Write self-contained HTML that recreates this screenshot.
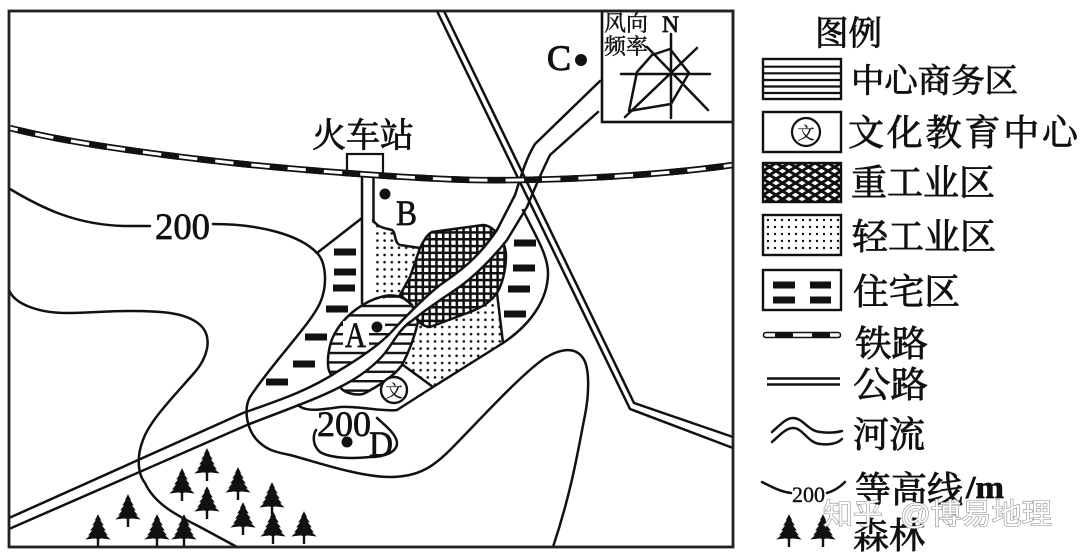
<!DOCTYPE html>
<html><head><meta charset="utf-8">
<style>
html,body{margin:0;padding:0;background:#fff}
svg{display:block}
text{font-family:"Liberation Serif","Noto Serif CJK SC",serif;fill:#111;stroke:#111;stroke-width:.7}
.c{stroke-width:.85}
.l{fill:none;stroke:#111;stroke-width:2.5;stroke-linejoin:round;stroke-linecap:round}
</style></head><body>
<svg width="1080" height="558" viewBox="0 0 1080 558" xmlns="http://www.w3.org/2000/svg">
<defs>
<pattern id="hz" patternUnits="userSpaceOnUse" width="10" height="9.4" y="4"><rect width="10" height="2.4" fill="#111"/></pattern>
<pattern id="gr" patternUnits="userSpaceOnUse" width="6.8" height="6.8"><rect width="6.800" height="2.5" fill="#111"/><rect width="2.500" height="6.8" fill="#111"/></pattern>
<pattern id="dt" patternUnits="userSpaceOnUse" width="7.2" height="7.2"><circle cx="3" cy="3" r="1.3" fill="#111"/></pattern>
<pattern id="ld" patternUnits="userSpaceOnUse" width="7" height="7" x="765" y="217"><circle cx="3" cy="3" r="1.2" fill="#111"/></pattern>
<pattern id="dm" patternUnits="userSpaceOnUse" width="13" height="8" x="763" y="163"><path d="M0,0L13,8M13,0L0,8" stroke="#111" stroke-width="3" fill="none"/></pattern>
<g id="t"><polygon fill="#111" stroke="#111" stroke-width=".8" points="0,0 2.5,5 1.5,5 5,10 3,10 7,15 5,15 9,20 7,20 11.5,24 3,23 0,24 -3,23 -11.5,24 -7,20 -9,20 -5,15 -7,15 -3,10 -5,10 -1.5,5 -2.5,5"/><rect x="-1.2" y="22" width="2.4" height="10" fill="#111"/></g>
</defs>
<rect width="1080" height="558" fill="#fff"/>

<!-- zone fills -->
<path d="M373,220C378,228 385,228 392,230C396,232 394,243 400,245L420,248L410,277L400,295L393,295L373,303Z" fill="url(#dt)"/>
<path d="M418,322L408,357L403,365L433,387L503,343L497,293L470,312L430,327Z" fill="url(#dt)"/>
<path d="M420,248C425,238 428,234 432,232L483,225C492,225 505,238 506,255C506,270 502,285 497,293C490,302 483,307 470,312L430,327C422,326 418,322 417,317L412,305L400,295L410,277Z" fill="url(#gr)" stroke="#111" stroke-width="2.5"/>
<path d="M412,305C405,297 395,294 385,296C365,300 345,315 335,333C328,345 326,365 330,373L340,387C345,394 360,397 367,392C380,385 395,375 402,365C410,350 415,335 418,322Z" fill="url(#hz)" stroke="#111" stroke-width="2.5"/>
<rect x="343" y="321" width="26" height="29" fill="#fff"/>
<rect x="369" y="319" width="16" height="14" fill="#fff"/>

<!-- river -->
<path d="M9,518L243,413C280,400 310,390 340,370C365,355 385,340 395,328C410,312 425,297 440,285C465,268 480,255 497,230L515,195C520,180 525,160 535,144L600,81L598,112L550,155C540,175 532,195 527,207L507,240C495,255 475,277 455,290C440,300 425,310 413,320C400,328 395,340 385,353C375,365 360,377 340,387C315,400 280,412 247,425L9,529Z" fill="#fff"/>
<path class="l" d="M9,518L243,413C280,400 310,390 340,370C365,355 385,340 395,328C410,312 425,297 440,285C465,268 480,255 497,230L515,195C520,180 525,160 535,144L600,81"/>
<path class="l" d="M9,529L247,425C280,412 315,400 340,387C360,377 375,365 385,353C395,340 400,328 413,320C425,310 440,300 455,290C475,277 495,255 507,240L527,207C532,195 540,175 550,155L598,112"/>

<!-- contours and zone edges -->
<path class="l" d="M10,189C40,207 75,225 125,226L150,226"/>
<path class="l" d="M213,224C260,224 300,235 317,253C326,262 328,285 320,303C310,325 273,362 250,397C243,410 247,432 260,443C268,450 275,452 290,455C320,463 360,477 390,477C420,477 435,465 450,450C475,425 520,375 545,358C560,349 575,346 583,358C590,368 589,395 585,415C578,450 572,490 553,547"/>
<path class="l" d="M9,290C15,305 40,313 67,313C90,313 105,311 130,311C160,311 190,312 203,328C212,340 207,358 195,372C175,395 150,420 143,440C137,455 137,473 145,483C155,505 180,517 200,527L237,547"/>
<path class="l" d="M317,253L362,218"/>
<path class="l" d="M523,210C535,235 548,255 548,273C548,300 530,325 503,343L433,387L397,410C385,412 360,406 340,407C320,410 305,412 298,405"/>
<path class="l" d="M373,220C378,228 385,228 392,230C396,232 394,243 400,245L420,248"/>
<path class="l" d="M497,293L503,343M403,365L433,387"/>
<path class="l" d="M377,418C385,425 397,435 397,443C397,452 385,457 370,457C350,459 330,458 320,452C312,445 313,435 316,430"/>

<!-- roads -->
<path class="l" d="M437,11L630,409L733,448"/>
<path class="l" d="M444,11L634,403L733,437"/>
<path class="l" d="M362,178V303M373.500,178V222"/>

<!-- station -->
<rect x="347" y="154" width="36" height="21" fill="#fff" stroke="#111" stroke-width="2.2"/>

<!-- railway -->
<path d="M10,128C60,141 133,152 233,163C300,170 400,178 473,180C530,181 640,178 733,165" fill="none" stroke="#111" stroke-width="6.500"/>
<path d="M10,128C60,141 133,152 233,163C300,170 400,178 473,180C530,181 640,178 733,165" fill="none" stroke="#fff" stroke-width="3"/>
<path d="M10,128C60,141 133,152 233,163C300,170 400,178 473,180C530,181 640,178 733,165" fill="none" stroke="#111" stroke-width="6.500" stroke-dasharray="18 18.4" stroke-dashoffset="-8"/>

<!-- residential bars -->
<g fill="#111">
<rect x="334" y="248.500" width="22" height="7"/><rect x="334" y="268.500" width="22" height="7"/><rect x="333" y="284.500" width="22" height="7"/><rect x="326" y="305.500" width="22" height="7"/><rect x="305" y="333.500" width="22" height="7"/><rect x="293" y="360.500" width="22" height="7"/><rect x="266" y="378.500" width="22" height="7"/>
<rect x="514" y="239.500" width="22" height="7"/><rect x="513" y="264.500" width="22" height="7"/><rect x="508" y="285.500" width="22" height="7"/><rect x="504" y="310.500" width="22" height="7"/>
</g>

<!-- dots -->
<g fill="#111"><circle cx="377" cy="327" r="5.5"/><circle cx="385" cy="194" r="5.5"/><circle cx="347" cy="442" r="5.5"/><circle cx="581" cy="60" r="6"/></g>

<!-- culture marker -->
<circle cx="394" cy="390" r="13" fill="#fff" stroke="#111" stroke-width="2.4"/>
<text x="394" y="397" font-size="17" text-anchor="middle" style="stroke-width:.3">文</text>

<!-- map labels -->
<text class="c" x="312" y="147" font-size="34" textLength="102" lengthAdjust="spacingAndGlyphs">火车站</text>
<text x="155" y="239" font-size="37" textLength="55" lengthAdjust="spacingAndGlyphs">200</text>
<text x="317" y="436" font-size="36" textLength="54" lengthAdjust="spacingAndGlyphs">200</text>
<text x="345" y="347" font-size="36" textLength="21" lengthAdjust="spacingAndGlyphs">A</text>
<text x="396" y="225" font-size="36" textLength="21" lengthAdjust="spacingAndGlyphs">B</text>
<text x="547" y="70" font-size="36" textLength="24" lengthAdjust="spacingAndGlyphs" style="stroke-width:1.1">C</text>
<text x="369" y="456" font-size="36" textLength="24" lengthAdjust="spacingAndGlyphs">D</text>

<!-- trees -->
<use href="#t" x="98" y="515"/><use href="#t" x="128" y="495"/><use href="#t" x="157" y="515"/><use href="#t" x="184" y="515"/><use href="#t" x="182" y="469"/><use href="#t" x="207" y="449"/><use href="#t" x="207" y="487"/><use href="#t" x="238" y="468"/><use href="#t" x="243" y="503"/><use href="#t" x="272" y="483"/><use href="#t" x="273" y="512"/><use href="#t" x="304" y="512"/>

<!-- inset box -->
<rect x="602" y="11" width="131" height="111" fill="#fff" stroke="#111" stroke-width="2.600"/>
<text x="604" y="31" font-size="22" textLength="44" lengthAdjust="spacingAndGlyphs" style="stroke-width:.45">风向</text>
<text x="604" y="54" font-size="22" textLength="44" lengthAdjust="spacingAndGlyphs" style="stroke-width:.45">频率</text>
<text x="662" y="32" font-size="23" textLength="17" lengthAdjust="spacingAndGlyphs" style="stroke-width:.8">N</text>
<path class="l" d="M671,34V118M621,74H710M625,117L697,48M647,47L708,110"/>
<path class="l" d="M629,111L637,72L652,55L670,49L689,73L671,104Z"/>

<!-- frame -->
<rect x="9" y="11" width="724" height="536" fill="none" stroke="#222" stroke-width="2.800"/>

<!-- legend -->
<text class="c" x="815" y="45" font-size="34" textLength="67" lengthAdjust="spacingAndGlyphs">图例</text>

<rect x="763" y="59" width="78" height="40" fill="#fff" stroke="#111" stroke-width="2.400"/>
<path d="M763,66.700H841M763,73.300H841M763,80H841M763,86.500H841M763,93H841" stroke="#111" stroke-width="2.200"/>
<text class="c" x="851" y="92" font-size="33" textLength="167" lengthAdjust="spacingAndGlyphs">中心商务区</text>

<rect x="763" y="112" width="78" height="40" fill="#fff" stroke="#111" stroke-width="2.400"/>
<circle cx="806" cy="132" r="14" fill="#fff" stroke="#111" stroke-width="2.200"/>
<text x="806" y="139" font-size="17" text-anchor="middle" style="stroke-width:.3">文</text>
<text class="c" x="848" y="145" font-size="36" textLength="230" lengthAdjust="spacing">文化教育中心</text>

<rect x="763" y="163" width="78" height="39" fill="url(#dm)" stroke="#111" stroke-width="2.400"/>
<text class="c" x="851" y="195" font-size="36" textLength="144" lengthAdjust="spacingAndGlyphs">重工业区</text>

<rect x="763" y="215" width="78" height="40" fill="url(#ld)" stroke="#111" stroke-width="2.400"/>
<text class="c" x="852" y="249" font-size="36" textLength="144" lengthAdjust="spacingAndGlyphs">轻工业区</text>

<rect x="763" y="270" width="78" height="40" fill="#fff" stroke="#111" stroke-width="2.400"/>
<g fill="#111"><rect x="773" y="281.500" width="22" height="7"/><rect x="810" y="281.500" width="21" height="7"/><rect x="773" y="296.500" width="22" height="7"/><rect x="810" y="296.500" width="21" height="7"/></g>
<text class="c" x="853" y="304" font-size="36" textLength="107" lengthAdjust="spacingAndGlyphs">住宅区</text>

<rect x="763.500" y="332.500" width="77" height="5" rx="2.500" fill="#fff" stroke="#111" stroke-width="1.600"/>
<rect x="775" y="332" width="18" height="6" fill="#111"/><rect x="812" y="332" width="18" height="6" fill="#111"/>
<text class="c" x="855" y="356" font-size="36" textLength="73" lengthAdjust="spacingAndGlyphs">铁路</text>

<path d="M767,378.500H840M767,384.500H840" stroke="#111" stroke-width="2.400"/>
<text class="c" x="853" y="397" font-size="36" textLength="75" lengthAdjust="spacingAndGlyphs">公路</text>

<path class="l" d="M772,432C780,425 786,418 793,418C803,418 808,431 820,432C828,433 835,433 842,431"/>
<path class="l" d="M772,442C780,435 786,428 793,428C803,428 808,443 820,444C828,445 837,444 842,439"/>
<text class="c" x="853" y="447" font-size="36" textLength="72" lengthAdjust="spacingAndGlyphs">河流</text>

<path class="l" d="M762,482C772,487 781,492 791,493"/>
<path class="l" d="M827,493C834,491 840,487 845,482"/>
<text x="792" y="502" font-size="22" textLength="33" lengthAdjust="spacingAndGlyphs" style="stroke-width:.4">200</text>
<text class="c" x="855" y="502" font-size="36" textLength="108" lengthAdjust="spacingAndGlyphs">等高线</text>
<text x="966" y="498" font-size="32" textLength="38" lengthAdjust="spacingAndGlyphs" font-weight="bold">/m</text>

<use href="#t" x="789" y="515"/><use href="#t" x="823" y="515"/>
<text class="c" x="853" y="548" font-size="36" textLength="72" lengthAdjust="spacingAndGlyphs">森林</text>

<!-- watermark -->
<g style="paint-order:stroke">
<text x="823" y="524" font-size="29" style="font-family:'Liberation Sans','Noto Sans CJK SC',sans-serif;fill:#fff;stroke:#888;stroke-width:1.1" textLength="60" lengthAdjust="spacingAndGlyphs">知乎</text>
<text x="900" y="524" font-size="29" style="font-family:'Liberation Sans','Noto Sans CJK SC',sans-serif;fill:#fff;stroke:#888;stroke-width:1.1" textLength="152" lengthAdjust="spacingAndGlyphs">@博易地理</text>
</g>
</svg>
</body></html>
